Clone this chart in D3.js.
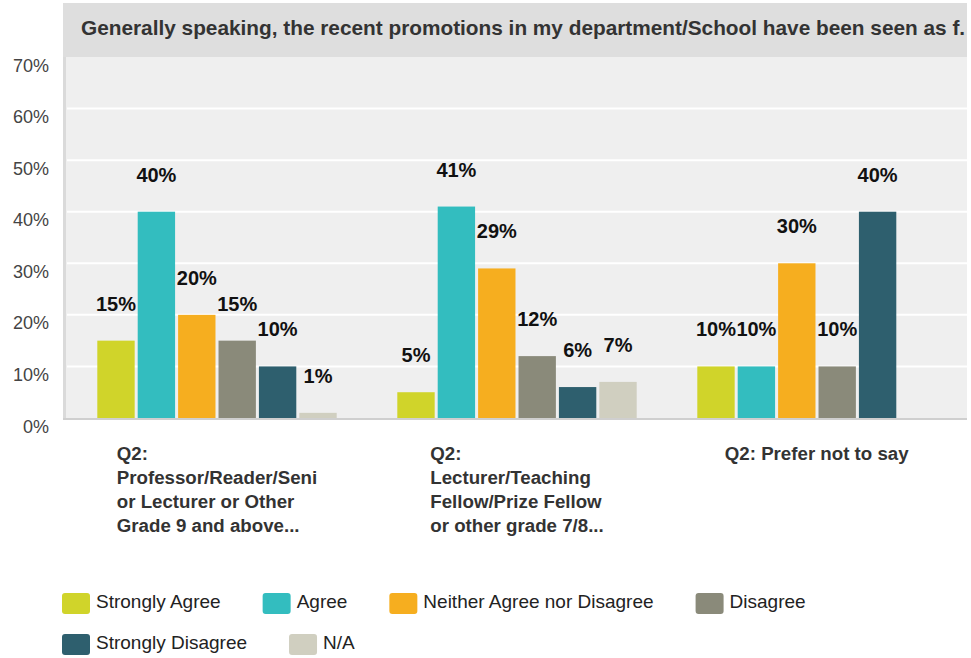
<!DOCTYPE html>
<html>
<head>
<meta charset="utf-8">
<script src="https://cdn.jsdelivr.net/npm/d3@7"></script>
<style>
  body { margin: 0; background: #fff; }
  text { font-family: "Liberation Sans", Arial, sans-serif; }
</style>
</head>
<body>
<div id="container"></div>
<script>
const width = 971;
const height = 658;

const title = 'Generally speaking, the recent promotions in my department/School have been seen as f.';
const groups = [
    ['Q2:', 'Professor/Reader/Seni', 'or Lecturer or Other', 'Grade 9 and above...'],
    ['Q2:', 'Lecturer/Teaching', 'Fellow/Prize Fellow', 'or other grade 7/8...'],
    ['Q2: Prefer not to say']
];
const series = ['Strongly Agree', 'Agree', 'Neither Agree nor Disagree', 'Disagree', 'Strongly Disagree', 'N/A'];
const colors = ['#d0d42a', '#33bdbf', '#f6ae1f', '#8a8a7a', '#2e5f6e', '#d0cfc0'];
// percent per group, in series order (null = no bar)
const group1 = [15, 40, 20, 15, 10, 1];
const group2 = [5, 41, 29, 12, 6, 7];
const group3 = [10, 10, 30, 10, 40, null];
const yTicks = [0, 10, 20, 30, 40, 50, 60, 70];

const values = [group1, group2, group3];

const plot = { left: 67, right: 967, top: 57, bottom: 418 };

const svg = d3.select('#container')
    .append('svg')
    .attr('width', width)
    .attr('height', height);

/* TITLE */
svg.append('defs').append('clipPath')
    .attr('id', 'titleClip')
    .append('rect')
    .attr('x', 63).attr('y', 3)
    .attr('width', plot.right - 63).attr('height', plot.top - 3);

svg.append('rect')
    .attr('x', 63).attr('y', 3)
    .attr('width', plot.right - 63)
    .attr('height', plot.top - 3)
    .attr('fill', '#dedede');

svg.append('text')
    .attr('clip-path', 'url(#titleClip)')
    .attr('x', 81)
    .attr('y', 35)
    .style('font-size', '20.8px')
    .style('font-weight', 'bold')
    .attr('fill', '#333')
    .text(title);

/* PLOT AREA */
const x0 = d3.scaleBand()
    .domain(d3.range(groups.length))
    .range([plot.left, plot.right]);

const x1 = d3.scaleBand()
    .domain(d3.range(series.length))
    .range([0, x0.bandwidth()])
    .paddingInner(0.075)
    .paddingOuter(0.75);

const y = d3.scaleLinear()
    .domain([0, 70])
    .range([plot.bottom, plot.top]);

svg.append('rect')
    .attr('x', plot.left - 4)
    .attr('y', plot.top)
    .attr('width', plot.right - plot.left + 4)
    .attr('height', plot.bottom - plot.top)
    .attr('fill', '#efefef');

svg.append('g')
    .selectAll('line')
    .data(yTicks.filter(d => d > 0 && d < 70))
    .enter().append('line')
    .attr('x1', plot.left)
    .attr('x2', plot.right)
    .attr('y1', d => y(d))
    .attr('y2', d => y(d))
    .attr('stroke', '#fff')
    .attr('stroke-width', 2);

// left border and baseline
svg.append('rect')
    .attr('x', plot.left - 4)
    .attr('y', plot.top)
    .attr('width', 3)
    .attr('height', plot.bottom - plot.top + 2)
    .attr('fill', '#dadada');

svg.append('rect')
    .attr('x', plot.left - 4)
    .attr('y', plot.bottom)
    .attr('width', plot.right - plot.left + 4)
    .attr('height', 2)
    .attr('fill', '#cfcfcf');

svg.append('g')
    .selectAll('text')
    .data(yTicks)
    .enter().append('text')
    .attr('x', 49)
    .attr('y', d => y(d) + 14.5)
    .attr('text-anchor', 'end')
    .style('font-size', '18px')
    .attr('fill', '#444')
    .text(d => d + '%');

const groupG = svg.append('g')
    .selectAll('g')
    .data(values)
    .enter().append('g')
    .attr('transform', (d, i) => `translate(${x0(i)},0)`);

const cells = groupG.selectAll('g')
    .data(d => d.map((v, k) => ({ v: v, k: k })).filter(c => c.v !== null))
    .enter().append('g');

cells.append('rect')
    .attr('x', d => x1(d.k))
    .attr('y', d => y(d.v))
    .attr('width', x1.bandwidth())
    .attr('height', d => plot.bottom - y(d.v))
    .attr('fill', d => colors[d.k]);

cells.append('text')
    .attr('x', d => x1(d.k) + x1.bandwidth() / 2)
    .attr('y', d => y(d.v) - 30)
    .attr('text-anchor', 'middle')
    .style('font-size', '20px')
    .style('font-weight', 'bold')
    .attr('fill', '#111')
    .text(d => d.v + '%');

/* CATEGORY LABELS */
groups.forEach((lines, i) => {
    const t = svg.append('text')
        .style('font-size', '18.7px')
        .style('font-weight', 'bold')
        .attr('fill', '#333');
    t.selectAll('tspan')
        .data(lines)
        .enter().append('tspan')
        .attr('x', 0)
        .attr('y', (d, j) => 459.5 + j * 24.2)
        .text(d => d);
    const w = t.node().getBBox().width;
    t.attr('transform', `translate(${x0(i) + x0.bandwidth() / 2 - w / 2},0)`);
});

/* LEGEND */
const legend = svg.append('g').attr('id', 'legend');
let lx = 62, ly = 593;
series.forEach((name, k) => {
    const item = legend.append('g');
    item.append('rect')
        .attr('width', 28)
        .attr('height', 21)
        .attr('rx', 3)
        .attr('ry', 3)
        .attr('fill', colors[k]);
    const label = item.append('text')
        .attr('x', 34)
        .attr('y', 15)
        .style('font-size', '19px')
        .attr('fill', '#222')
        .text(name);
    const w = 34 + label.node().getComputedTextLength();
    if (lx + w > plot.right && lx > 62) {
        lx = 62;
        ly += 41;
    }
    item.attr('transform', `translate(${lx},${ly})`);
    lx += w + 42;
});
</script>
</body>
</html>
